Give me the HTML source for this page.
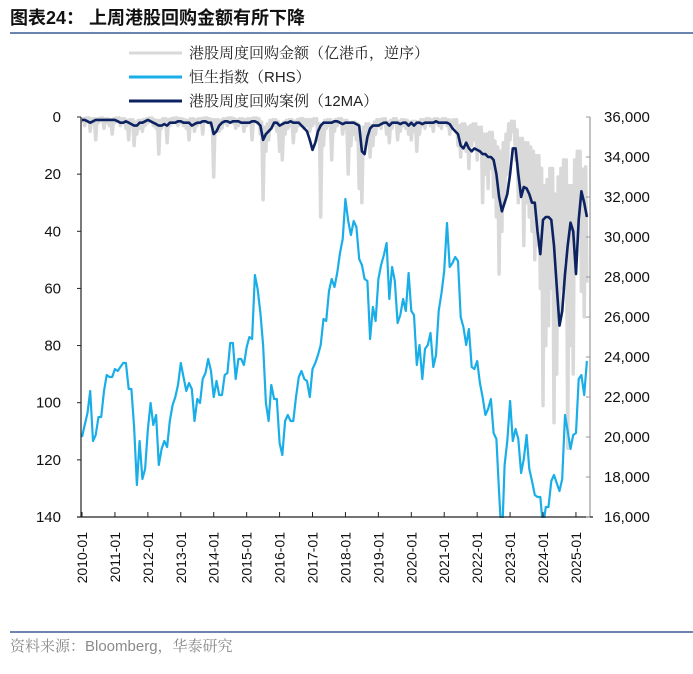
<!DOCTYPE html>
<html><head><meta charset="utf-8">
<style>
html,body{margin:0;padding:0;background:#fff;}
body{width:693px;height:669px;overflow:hidden;font-family:"Liberation Sans","Noto Sans CJK SC",sans-serif;}
svg text{font-family:"Liberation Sans","Noto Sans CJK SC",sans-serif;}
svg text.serif{font-family:"Liberation Sans","Noto Serif CJK SC",serif;}
</style></head><body>
<svg id="chart" width="693" height="669" xmlns="http://www.w3.org/2000/svg">
<text x="10" y="24" font-size="18" font-weight="bold" fill="#111">图表24：  上周港股回购金额有所下降</text>
<line x1="10" y1="33" x2="693" y2="33" stroke="#6a86b0" stroke-width="2"/>
<g font-size="15" fill="#222">
 <line x1="129" y1="53" x2="182" y2="53" stroke="#d9d9d9" stroke-width="3"/>
 <text class="serif" x="189" y="58">港股周度回购金额（亿港币，逆序）</text>
 <line x1="129" y1="77" x2="182" y2="77" stroke="#1aaee8" stroke-width="3"/>
 <text class="serif" x="189" y="82">恒生指数（RHS）</text>
 <line x1="129" y1="101" x2="182" y2="101" stroke="#0d2260" stroke-width="3"/>
 <text class="serif" x="189" y="106">港股周度回购案例（12MA）</text>
</g>
<defs><clipPath id="plotclip"><rect x="81" y="112" width="509" height="406"/></clipPath></defs>
<g id="series" clip-path="url(#plotclip)"></g>
<g id="axes"></g>
<line x1="10" y1="632" x2="693" y2="632" stroke="#6a86b0" stroke-width="2"/>
<text class="serif" x="10" y="651" font-size="15" fill="#8a8a8a">资料来源：Bloomberg，华泰研究</text>
</svg>
<script>
const startYear = 2010;
const leftTicks = [0,20,40,60,80,100,120,140];
const rightTicks = [16000,18000,20000,22000,24000,26000,28000,30000,32000,34000,36000];
const yearLabels = ["2010-01","2011-01","2012-01","2013-01","2014-01","2015-01","2016-01","2017-01","2018-01","2019-01","2020-01","2021-01","2022-01","2023-01","2024-01","2025-01"];
const buyback = [
2,3,1,5,2,8,2,1,4,2,3,6,
2,1,3,2,4,8,3,10,6,4,5,3,
2,1,3,4,13,4,2,9,3,2,1,3,
2,3,4,8,2,5,3,2,6,1,2,3,
21,3,5,4,2,3,1,2,4,3,2,5,
3,2,8,1,2,6,29,12,8,4,3,5,
12,15,6,4,3,9,5,3,2,4,3,5,
3,2,8,35,10,4,3,15,5,3,2,6,
4,20,10,6,8,25,30,12,8,14,10,6,
3,4,2,6,9,4,2,8,5,3,4,6,
8,5,12,6,3,4,2,3,5,2,3,4,
2,3,6,4,3,10,14,8,12,18,10,8,
15,12,30,20,25,18,28,35,55,40,30,20,
8,5,15,30,25,45,30,35,40,50,45,60,
101,80,73,60,107,90,70,60,50,116,80,90,
50,40,61,70,58];
const buybackMA = [
1,1,1.5,2,1.5,1,1,1,1,1,1,1,
1,1.5,2,2,1.5,2,2.5,3,3,2,2,1.5,
1,1.5,2,2.5,3,3,2.5,3,2,2,2,1.5,
1.5,2,2,2,3,2.5,2,2,1.5,1.5,2,2,
6,5,3,2,1.5,1.5,2,1.5,1.5,1.5,2,2,
2,2,1.5,1.5,2,3,8,6,5,4,2,2,
3,2.5,2,2,1.5,2,2,2,3,4,5,8,
11.5,9,5,3,2,2,2,2,1.5,1.5,2,2.5,
2,2,2,2,2.5,3,12,13,7,4,3,3,
3,2.5,2,2,3,2,2,2,2.5,2,2,3,
2,3,2,2,2.5,2,2,2,2,1.5,2,2,
2,2,2.5,4,5,6,10,11,9,11,12,11,
11.5,12,13,13,14,14,15,20,28,33,30,27,
20,11,11,20,28,24.5,25,27,30,30,40,48,
36,35,35,36,45,59,73,68,55,45,37,40,
55,36,26,30,35];
const hsi = [
20000,20600,21200,22300,19800,20100,21000,21000,22300,23100,23000,23000,
23400,23300,23500,23700,23700,22400,22400,20500,17600,19800,17900,18400,
20400,21700,20600,21100,18600,19400,19800,19500,20800,21600,22000,22600,
23700,23000,22300,22700,22400,20800,21900,21700,22900,23200,23900,23300,
22000,22800,22100,22100,23100,23200,24700,24700,22900,23900,23900,23600,
24500,25000,24900,28100,27400,26200,24600,21700,20800,22600,21900,21900,
19700,19100,20800,21100,20800,20800,22000,23000,23300,22900,22800,22000,
23400,23700,24100,24600,25900,25800,27300,27900,27500,28200,29200,29900,
31900,30800,30100,30800,30500,28900,28600,27900,27800,24900,26500,25800,
27900,28600,29100,29700,26900,28500,27800,25700,26100,26900,26300,28200,
26300,26100,23600,24600,22900,24400,24600,25200,23500,24100,26300,27200,
28300,30700,28500,28700,29000,28800,26000,25500,24600,25400,23500,23400,
23800,22700,22000,21100,21400,21900,20200,19900,17200,14700,18600,19800,
21800,19800,20400,19900,18200,18900,20100,18400,17800,17100,17000,17000,
15500,16500,16500,17800,18100,17700,17300,17900,21100,20300,19400,20100,
20200,22900,23100,22100,23800];

const X0=82, PXY=32.93, YT=117, YB=517, XL=81, XR=590;
function xScale(i){return X0+PXY*(i/12);}
function xYear(k){return X0+PXY*k;}
function yLeft(v){return YT+(v-0)/(140-0)*(YB-YT);}
function yRight(v){return YB-(v-16000)/(36000-16000)*(YB-YT);}
const NS="http://www.w3.org/2000/svg";
function mk(tag,attrs,parent){const e=document.createElementNS(NS,tag);for(const k in attrs)e.setAttribute(k,attrs[k]);parent.appendChild(e);return e;}
const series=document.getElementById('series'), axes=document.getElementById('axes');
function path(arr,yf){return arr.map((v,i)=>(i?'L':'M')+xScale(i).toFixed(1)+' '+yf(v).toFixed(1)).join(' ');}
// spiky path: between months drop toward a low level derived from neighbours (weekly look)
function spikyPath(arr,yf){
  let d='';
  arr.forEach((v,i)=>{
    d+=(i?'L':'M')+xScale(i).toFixed(1)+' '+yf(v).toFixed(1)+' ';
    if(i<arr.length-1){
      const lo=Math.min(v,arr[i+1])*0.3;
      d+='L'+xScale(i+0.5).toFixed(1)+' '+yf(lo).toFixed(1)+' ';
    }
  });
  return d;
}

const p1=mk('path',{d:spikyPath(buyback,yLeft),fill:'none',stroke:'#d9d9d9','stroke-width':3.5,'stroke-linejoin':'round'},series);


const p2=mk('path',{d:path(hsi,yRight),fill:'none',stroke:'#1aaee8','stroke-width':2.2,'stroke-linejoin':'round'},series);


const p3=mk('path',{d:path(buybackMA,yLeft),fill:'none',stroke:'#0d2260','stroke-width':2.6,'stroke-linejoin':'round'},series);



const la=mk('line',{x1:XL,y1:YT,x2:XL,y2:YB,stroke:'#222','stroke-width':1.2},axes);


const ra=mk('line',{x1:XR,y1:YT,x2:XR,y2:YB,stroke:'#999','stroke-width':1.2},axes);


const ba=mk('line',{x1:XL-4,y1:YB,x2:XR+3,y2:YB,stroke:'#222','stroke-width':1.2},axes);


leftTicks.forEach(v=>{
  const y=yLeft(v);
  mk('line',{x1:XL-4,y1:y,x2:XL,y2:y,stroke:'#222'},axes);
  const t=mk('text',{x:61,y:y+5,'text-anchor':'end','font-size':15,fill:'#111'},axes);
  t.textContent=v;
  
  
});
rightTicks.forEach(v=>{
  const y=yRight(v);
  mk('line',{x1:XR-4,y1:y,x2:XR,y2:y,stroke:'#999'},axes);
  const t=mk('text',{x:604,y:y+5,'font-size':15,fill:'#111'},axes);
  t.textContent=v.toLocaleString('en-US');
  
  
});
yearLabels.forEach((lab,k)=>{
  const x=xYear(k);
  mk('line',{x1:x,y1:YB-5,x2:x,y2:YB,stroke:'#222'},axes);
  const t=mk('text',{x:0,y:0,'text-anchor':'end','font-size':14,fill:'#111',transform:`translate(${(x+5).toFixed(1)},532) rotate(-90)`},axes);
  t.textContent=lab;
  
  
});
</script>
</body></html>
